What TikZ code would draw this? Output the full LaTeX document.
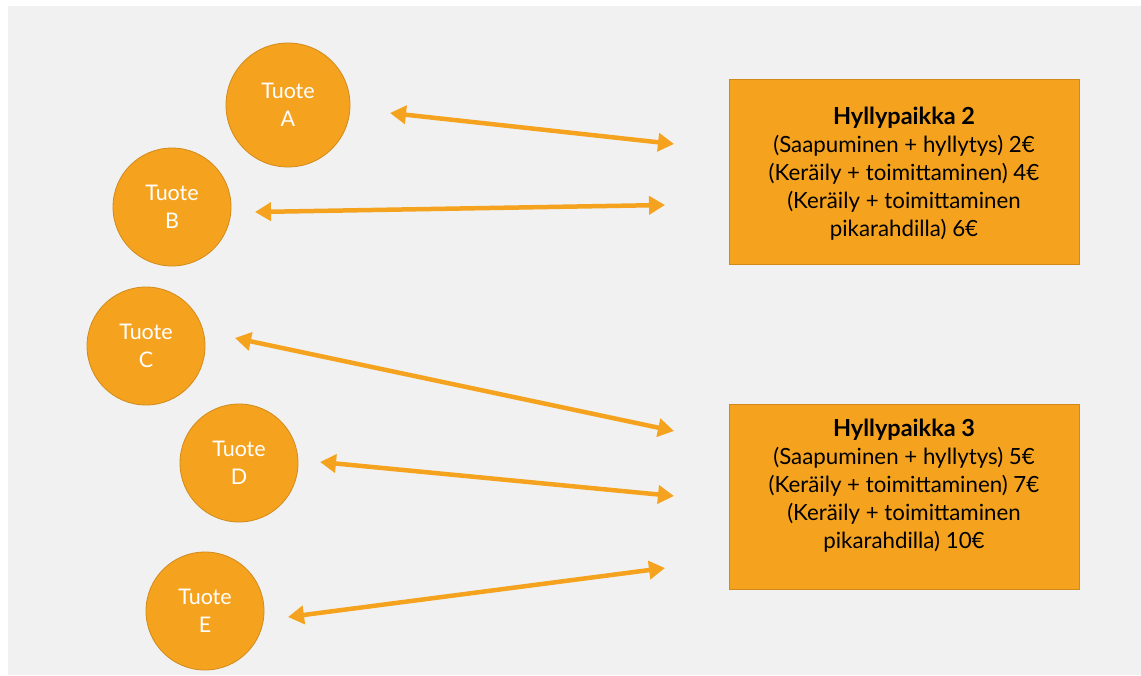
\documentclass[tikz,border=0pt]{standalone}
\usepackage{fontspec}
\setmainfont{Lato}
\usetikzlibrary{arrows.meta}
\definecolor{bg}{HTML}{F1F1F1}
\definecolor{org}{HTML}{F5A31F}
\definecolor{orgdark}{HTML}{D18A1A}
\begin{document}
\begin{tikzpicture}[x=1pt,y=-1pt,
  tuote/.style={circle,fill=org,draw=orgdark,line width=0.8pt,minimum size=#1,inner sep=0pt,
    text=white,font=\fontsize{21.5}{28}\selectfont,align=center},
  hylly/.style={rectangle,fill=org,draw=orgdark,line width=0.8pt,minimum width=350,minimum height=185,
    inner sep=0pt},
  hyllytext/.style={font=\fontsize{22.3}{28}\selectfont,align=center},
  link/.style={org,line width=4.5pt,{Triangle[length=16pt,width=18pt]}-{Triangle[length=16pt,width=18pt]}}]
\useasboundingbox (0,0) rectangle (1141,675);
\fill[white] (0,0) rectangle (1141,675);
\fill[bg] (8,6) rectangle (1141,675);
\node[tuote=124] (A) at (288,105) {Tuote\\A};
\node[tuote=118] (B) at (172,207) {Tuote\\B};
\node[tuote=118] (C) at (146,346) {Tuote\\C};
\node[tuote=118] (D) at (239,463) {Tuote\\D};
\node[tuote=118] (E) at (205,611) {Tuote\\E};
\node[hylly] (H2) at (904,171.5) {};
\node[hyllytext] (T2) at (904,174) {{\fontsize{23.5}{28}\selectfont\bfseries Hyllypaikka 2}\\(Saapuminen + hyllytys) 2€\\(Keräily + toimittaminen) 4€\\(Keräily + toimittaminen\\pikarahdilla) 6€};
\node[hylly] (H3) at (904,496.5) {};
\node[hyllytext] (T3) at (904,486) {{\fontsize{23.5}{28}\selectfont\bfseries Hyllypaikka 3}\\(Saapuminen + hyllytys) 5€\\(Keräily + toimittaminen) 7€\\(Keräily + toimittaminen\\pikarahdilla) 10€};
\coordinate (a1) at (390,113); \coordinate (a2) at (674,144);
\coordinate (b1) at (255,212); \coordinate (b2) at (665,205);
\coordinate (c1) at (235,338); \coordinate (c2) at (674,431);
\coordinate (d1) at (320,462); \coordinate (d2) at (674,496);
\coordinate (e1) at (288,617); \coordinate (e2) at (665,568);
\draw[link] (a1) -- (a2);
\draw[link] (b1) -- (b2);
\draw[link] (c1) -- (c2);
\draw[link] (d1) -- (d2);
\draw[link] (e1) -- (e2);
\end{tikzpicture}
\end{document}
